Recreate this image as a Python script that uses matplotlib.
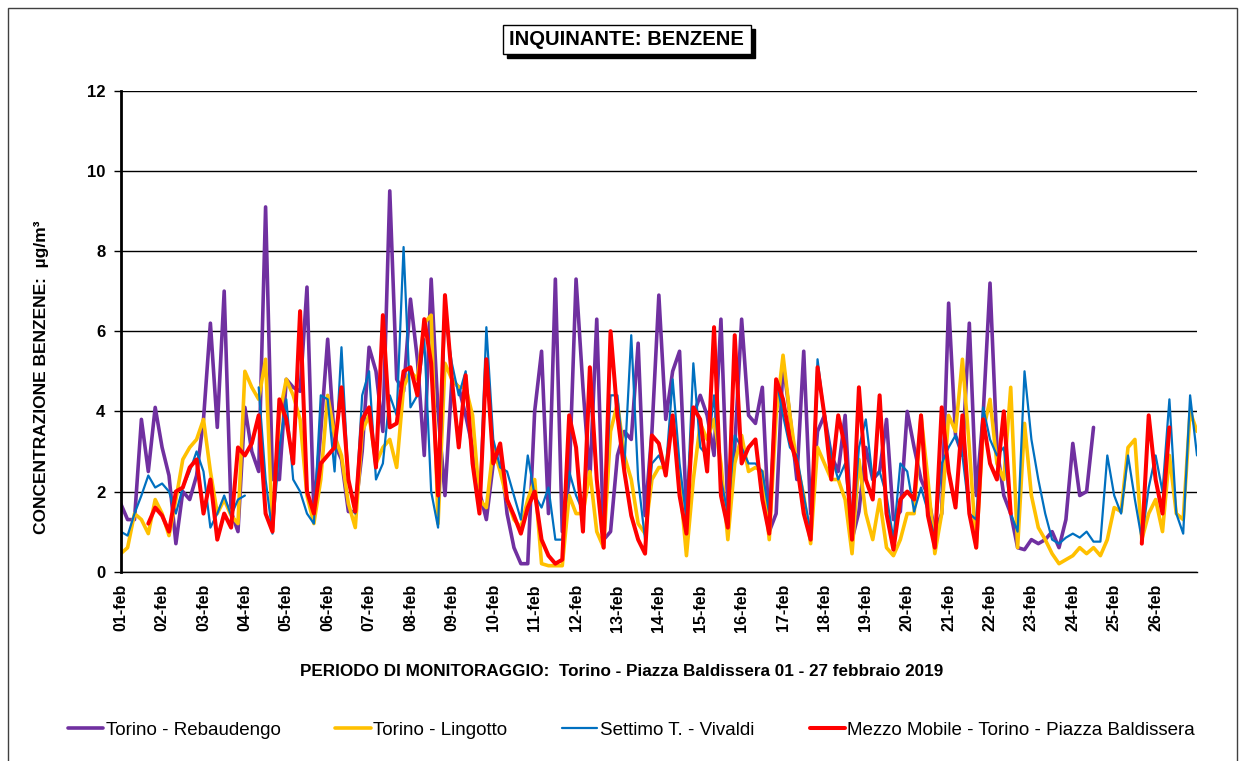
import numpy as np
import matplotlib.pyplot as plt
from matplotlib.patches import Rectangle

plt.rcParams['font.family'] = ['Liberation Sans', 'DejaVu Sans']

nan = np.nan

# etichette dell'asse x (una per giorno)
giorni = [f"{d:02d}-feb" for d in range(1, 27)]

# concentrazioni di benzene (µg/m³), un valore ogni 4 ore
# dal 01-feb 00:00 fino al 27-feb 00:00 (6 valori per riga = 1 giorno)
rebaudengo = [
    1.7, 1.3, 1.3, 3.8, 2.5, 4.1,
    3.1, 2.4, 0.7, 2.0, 1.8, 2.4,
    3.8, 6.2, 3.6, 7.0, 1.5, 1.0,
    4.1, 3.0, 2.5, 9.1, 2.3, 2.3,
    4.8, 4.6, 4.5, 7.1, 1.45, 3.5,
    5.8, 3.2, 2.8, 1.5, 1.5, 3.0,
    5.6, 5.0, 3.5, 9.5, 4.8, 4.5,
    6.8, 5.3, 2.9, 7.3, 4.0, 1.9,
    4.8, 4.6, 3.9, 3.1, 2.0, 1.3,
    2.7, 3.1, 1.45, 0.6, 0.2, 0.2,
    4.0, 5.5, 1.45, 7.3, 1.0, 2.3,
    7.3, 4.6, 2.3, 6.3, 0.8, 1.0,
    2.9, 3.5, 3.3, 5.7, 1.4, 3.5,
    6.9, 3.8, 5.0, 5.5, 1.5, 3.9,
    4.4, 3.9, 2.9, 6.3, 1.5, 3.1,
    6.3, 3.9, 3.7, 4.6, 1.0, 1.45,
    5.2, 3.9, 2.3, 5.5, 1.45, 3.5,
    3.9, 2.9, 2.5, 3.9, 0.8, 1.5,
    3.1, 2.3, 2.5, 3.8, 1.3, 1.5,
    4.0, 3.1, 2.3, 1.9, 1.0, 1.45,
    6.7, 3.4, 2.9, 6.2, 1.9, 3.9,
    7.2, 3.1, 1.9, 1.45, 0.6, 0.55,
    0.8, 0.7, 0.8, 1.0, 0.6, 1.3,
    3.2, 1.9, 2.0, 3.6, nan, nan,
    nan, nan, nan, nan, nan, nan,
    nan, nan, nan, nan, nan, nan,
    nan,
]

lingotto = [
    0.45, 0.6, 1.45, 1.3, 0.95, 1.8,
    1.45, 0.9, 1.8, 2.8, 3.1, 3.3,
    3.8, 2.5, 1.45, 1.8, 1.4, 1.2,
    5.0, 4.6, 4.3, 5.3, 1.0, 3.9,
    4.8, 4.4, 3.8, 1.9, 1.2, 2.3,
    4.4, 3.4, 2.9, 1.7, 1.1, 3.5,
    3.9, 2.7, 3.1, 3.3, 2.6, 4.6,
    5.0, 4.8, 6.2, 6.4, 1.2, 5.2,
    4.8, 4.6, 4.6, 3.9, 1.8, 1.6,
    3.1, 2.5, 1.8, 1.3, 1.1, 1.8,
    2.3, 0.2, 0.15, 0.15, 0.15, 1.9,
    1.45, 1.45, 2.5, 1.0, 0.6, 3.5,
    4.2, 2.9, 2.3, 1.2, 0.95, 2.3,
    2.6, 2.6, 3.8, 2.3, 0.4, 2.3,
    3.7, 3.3, 3.8, 2.7, 0.8, 2.7,
    3.4, 2.5, 2.6, 2.5, 0.8, 3.9,
    5.4, 3.9, 2.7, 1.9, 0.7, 3.1,
    2.7, 2.3, 2.3, 1.8, 0.45, 2.8,
    1.45, 0.8, 1.8, 0.6, 0.4, 0.8,
    1.45, 1.45, 3.9, 2.3, 0.45, 1.45,
    3.9, 3.5, 5.3, 3.1, 0.6, 3.5,
    4.3, 2.7, 2.3, 4.6, 0.6, 3.7,
    1.9, 1.1, 0.8, 0.45, 0.2, 0.3,
    0.4, 0.6, 0.45, 0.6, 0.4, 0.8,
    1.6, 1.5, 3.1, 3.3, 0.8, 1.45,
    1.8, 1.0, 2.9, 1.45, 1.3, 4.0,
    3.5,
]

settimo = [
    1.0, 0.9, 1.45, 1.9, 2.4, 2.1,
    2.2, 2.0, 1.45, 2.1, 2.5, 3.0,
    2.5, 1.1, 1.45, 1.9, 1.4, 1.8,
    1.9, nan, 4.6, 2.3, 0.95, 3.1,
    4.3, 2.3, 2.0, 1.45, 1.2, 4.4,
    4.3, 2.5, 5.6, 2.3, 1.45, 4.4,
    5.0, 2.3, 2.7, 4.4, 3.9, 8.1,
    4.1, 4.4, 5.8, 2.0, 1.1, 6.4,
    5.2, 4.4, 5.0, 2.7, 1.7, 6.1,
    3.3, 2.6, 2.5, 1.9, 1.3, 2.9,
    1.9, 1.6, 2.1, 0.8, 0.8, 2.5,
    1.9, 1.5, 4.6, 2.3, 0.95, 4.4,
    4.4, 2.6, 5.9, 2.3, 0.8, 2.7,
    2.9, 2.5, 4.8, 2.7, 1.3, 5.2,
    3.1, 2.9, 4.4, 2.3, 1.45, 3.4,
    3.1, 2.7, 2.7, 2.5, 1.45, 4.8,
    3.9, 3.1, 2.9, 1.9, 1.0, 5.3,
    3.9, 2.9, 2.3, 2.7, 0.8, 3.1,
    3.8, 2.3, 2.5, 1.9, 0.8, 2.7,
    2.5, 1.5, 2.1, 1.5, 0.85, 2.7,
    3.1, 3.4, 2.9, 1.45, 1.3, 4.1,
    3.3, 2.9, 3.1, 1.45, 1.0, 5.0,
    3.3, 2.3, 1.45, 0.8, 0.7, 0.85,
    0.95, 0.85, 1.0, 0.75, 0.75, 2.9,
    1.9, 1.45, 2.9, 1.8, 0.8, 2.1,
    2.9, 2.0, 4.3, 1.45, 0.95, 4.4,
    2.9,
]

mezzo_mobile = [
    nan, nan, nan, nan, 1.2, 1.6,
    1.4, 1.0, 2.0, 2.1, 2.6, 2.8,
    1.45, 2.3, 0.8, 1.45, 1.1, 3.1,
    2.9, 3.2, 3.9, 1.45, 1.0, 4.3,
    3.8, 2.7, 6.5, 2.0, 1.45, 2.7,
    2.9, 3.1, 4.6, 2.3, 1.5, 3.8,
    4.1, 2.6, 6.4, 3.6, 3.7, 5.0,
    5.1, 4.4, 6.3, 5.2, 1.9, 6.9,
    4.8, 3.1, 4.9, 2.7, 1.45, 5.3,
    2.7, 3.2, 1.8, 1.4, 0.95, 1.6,
    2.0, 0.8, 0.4, 0.2, 0.3, 3.9,
    3.1, 1.0, 5.1, 2.3, 0.6, 6.0,
    3.9, 2.5, 1.4, 0.8, 0.45, 3.4,
    3.2, 2.4, 3.9, 1.9, 0.95, 4.1,
    3.8, 2.5, 6.1, 1.9, 1.1, 5.9,
    2.7, 3.1, 3.3, 1.8, 0.95, 4.8,
    4.3, 3.3, 2.7, 1.45, 0.8, 5.1,
    3.9, 2.3, 3.9, 3.1, 0.8, 4.6,
    2.3, 1.8, 4.4, 1.45, 0.55, 1.8,
    2.0, 1.8, 3.9, 1.4, 0.6, 4.1,
    2.5, 1.6, 3.9, 1.45, 0.6, 3.8,
    2.7, 2.3, 4.0, 1.45, nan, nan,
    nan, nan, nan, nan, nan, nan,
    nan, nan, nan, nan, nan, nan,
    nan, nan, nan, nan, 0.7, 3.9,
    2.3, 1.45, 3.6, nan, nan, nan,
    nan,
]

# asse dei tempi in giorni (passo di 4 ore)
tempo = np.arange(len(rebaudengo)) * 4 / 24

W, H = 1245, 761
fig = plt.figure(figsize=(W / 100, H / 100), dpi=100)
ax = fig.add_axes([120.7 / W, 1 - 571.7 / H, (1197 - 120.7) / W, (571.7 - 90.7) / H])

stile = dict(solid_joinstyle='round', solid_capstyle='round')
ax.plot(tempo, rebaudengo, color='#7030A0', lw=2.6, label='Torino - Rebaudengo', **stile)
ax.plot(tempo, lingotto, color='#FFC000', lw=2.6, label='Torino - Lingotto', **stile)
ax.plot(tempo, settimo, color='#0070C0', lw=1.6, label='Settimo T. - Vivaldi', **stile)
ax.plot(tempo, mezzo_mobile, color='#FF0000', lw=2.9,
        label='Mezzo Mobile - Torino - Piazza Baldissera', **stile)

ax.set_xlim(0, 26)
ax.set_ylim(0, 12)
ax.set_yticks(range(0, 13, 2))
ax.set_xticks(range(len(giorni)))
ax.set_xticklabels(giorni, rotation=90, fontsize=11.5, fontweight='bold')
for lab in ax.get_yticklabels():
    lab.set_fontweight('bold')
ax.tick_params(axis='x', length=0, pad=9)
ax.tick_params(axis='y', length=5, width=1, pad=6, labelsize=12)

ax.grid(axis='y', color='black', lw=1)
ax.set_axisbelow(True)
ax.spines['top'].set_visible(False)
ax.spines['right'].set_visible(False)
ax.spines['left'].set_linewidth(2)
ax.spines['bottom'].set_linewidth(1)

# titolo in riquadro con ombra
fig.add_artist(Rectangle((506.7 / W, 1 - 58.3 / H), 248 / W, 29.3 / H,
                         transform=fig.transFigure, color='black', zorder=1))
fig.add_artist(Rectangle((502.7 / W, 1 - 54.3 / H), 248 / W, 29.3 / H,
                         transform=fig.transFigure, fc='white', ec='black', lw=1, zorder=2))
fig.text(626.7 / W, 1 - 39.7 / H, 'INQUINANTE: BENZENE', ha='center', va='center',
         fontsize=14.5, fontweight='bold', zorder=3)

fig.text(41.5 / W, 1 - 377.5 / H, 'CONCENTRAZIONE BENZENE:  µg/m³', rotation=90,
         ha='center', va='center', fontsize=12.5, fontweight='bold')
fig.text(622 / W, 1 - 671 / H,
         'PERIODO DI MONITORAGGIO:  Torino - Piazza Baldissera 01 - 27 febbraio 2019',
         ha='center', va='center', fontsize=12.3, fontweight='bold')

# cornice esterna
fig.add_artist(Rectangle((8 / W, -0.05), (1237 - 8) / W, 1.05 - 8 / H,
                         transform=fig.transFigure, fill=False, ec='#404040', lw=1))

handles, labels = ax.get_legend_handles_labels()
fig.legend(handles, labels, loc='center', bbox_to_anchor=(631.5 / W, 1 - 730 / H),
           ncol=4, frameon=False, fontsize=13.5, handlelength=1.87,
           handletextpad=0.15, columnspacing=2.93, borderaxespad=0)

fig.savefig('out.png', dpi=100)
